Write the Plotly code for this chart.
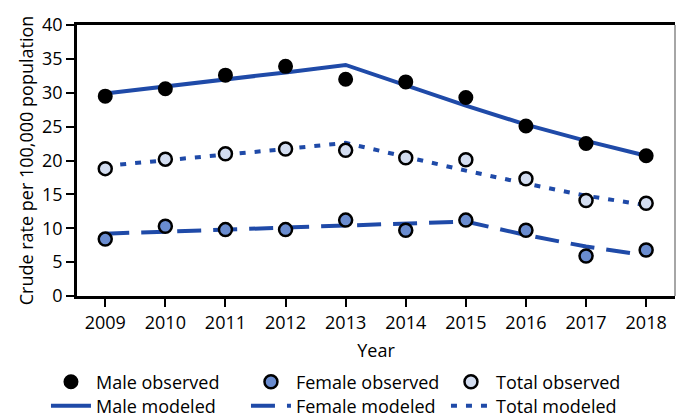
import plotly.graph_objects as go

years = [2009, 2010, 2011, 2012, 2013, 2014, 2015, 2016, 2017, 2018]

male_observed = [29.5, 30.6, 32.6, 33.9, 32.0, 31.6, 29.3, 25.1, 22.5, 20.7]
female_observed = [8.4, 10.3, 9.8, 9.8, 11.2, 9.7, 11.2, 9.7, 5.9, 6.8]
total_observed = [18.8, 20.2, 21.0, 21.7, 21.5, 20.4, 20.1, 17.3, 14.1, 13.7]

male_modeled = [29.9, 30.9, 32.0, 33.0, 34.1, 31.1, 28.1, 25.3, 22.9, 20.7]
female_modeled = [9.2, 9.5, 9.8, 10.1, 10.4, 10.7, 11.0, 9.0, 7.3, 6.0]
total_modeled = [19.2, 20.0, 20.9, 21.7, 22.6, 20.5, 18.5, 16.6, 14.8, 13.4]

blue = '#1f4aa8'
font_name = 'Open Sans'

fig = go.Figure()

# modeled lines first so the observed markers sit on top
fig.add_trace(go.Scatter(x=years, y=male_modeled, mode='lines', name='Male modeled',
                         legend='legend2', line=dict(color=blue, width=4)))
fig.add_trace(go.Scatter(x=years, y=female_modeled, mode='lines', name='Female modeled',
                         legend='legend2', line=dict(color=blue, width=4, dash='24px,12px')))
fig.add_trace(go.Scatter(x=years, y=total_modeled, mode='lines', name='Total modeled',
                         legend='legend2', line=dict(color=blue, width=4, dash='6px,9px')))

fig.add_trace(go.Scatter(x=years, y=male_observed, mode='markers', name='Male observed',
                         marker=dict(size=13, color='black', line=dict(color='black', width=2))))
fig.add_trace(go.Scatter(x=years, y=female_observed, mode='markers', name='Female observed',
                         marker=dict(size=13, color='#6a8ccf', line=dict(color='black', width=2.5))))
fig.add_trace(go.Scatter(x=years, y=total_observed, mode='markers', name='Total observed',
                         marker=dict(size=13, color='#d3ddf0', line=dict(color='black', width=2.5))))

leg = dict(orientation='h', xref='container', yref='container',
           xanchor='left', yanchor='middle', entrywidth=145, entrywidthmode='pixels',
           traceorder='normal', font=dict(size=18), itemwidth=40, bgcolor='rgba(0,0,0,0)')

fig.update_layout(
    width=676, height=417,
    margin=dict(l=77, r=1, t=25, b=121),
    paper_bgcolor='white', plot_bgcolor='white',
    font=dict(family=font_name, size=18, color='black'),
    showlegend=True,
    legend=dict(leg, x=0.068, y=1 - 382 / 417),
    legend2=dict(leg, x=0.068, y=1 - 406 / 417),
)

fig.update_xaxes(range=[2008.53, 2018.48], tickvals=years, showgrid=False,
                 showline=True, linecolor='black', linewidth=2.5, mirror=True,
                 ticks='outside', ticklen=8, tickwidth=2, tickcolor='black',
                 tickfont=dict(size=18), ticklabelstandoff=1,
                 title=dict(text='Year', standoff=12, font=dict(size=18)), zeroline=False)
fig.update_yaxes(range=[0, 40], dtick=5, showgrid=False,
                 showline=True, linecolor='black', linewidth=2.5,
                 ticks='outside', ticklen=8, tickwidth=2, tickcolor='black',
                 tickfont=dict(size=18),
                 title=dict(text='Crude rate per 100,000 population', standoff=4, font=dict(size=18)),
                 zeroline=False)

fig.add_shape(type='line', xref='paper', yref='paper', x0=1, x1=1, y0=0, y1=1,
              line=dict(color='#888888', width=1.5))

fig.write_html('out.html', config=dict(displayModeBar=False),
               post_script="document.body.style.margin='0';document.body.style.overflow='hidden';")
